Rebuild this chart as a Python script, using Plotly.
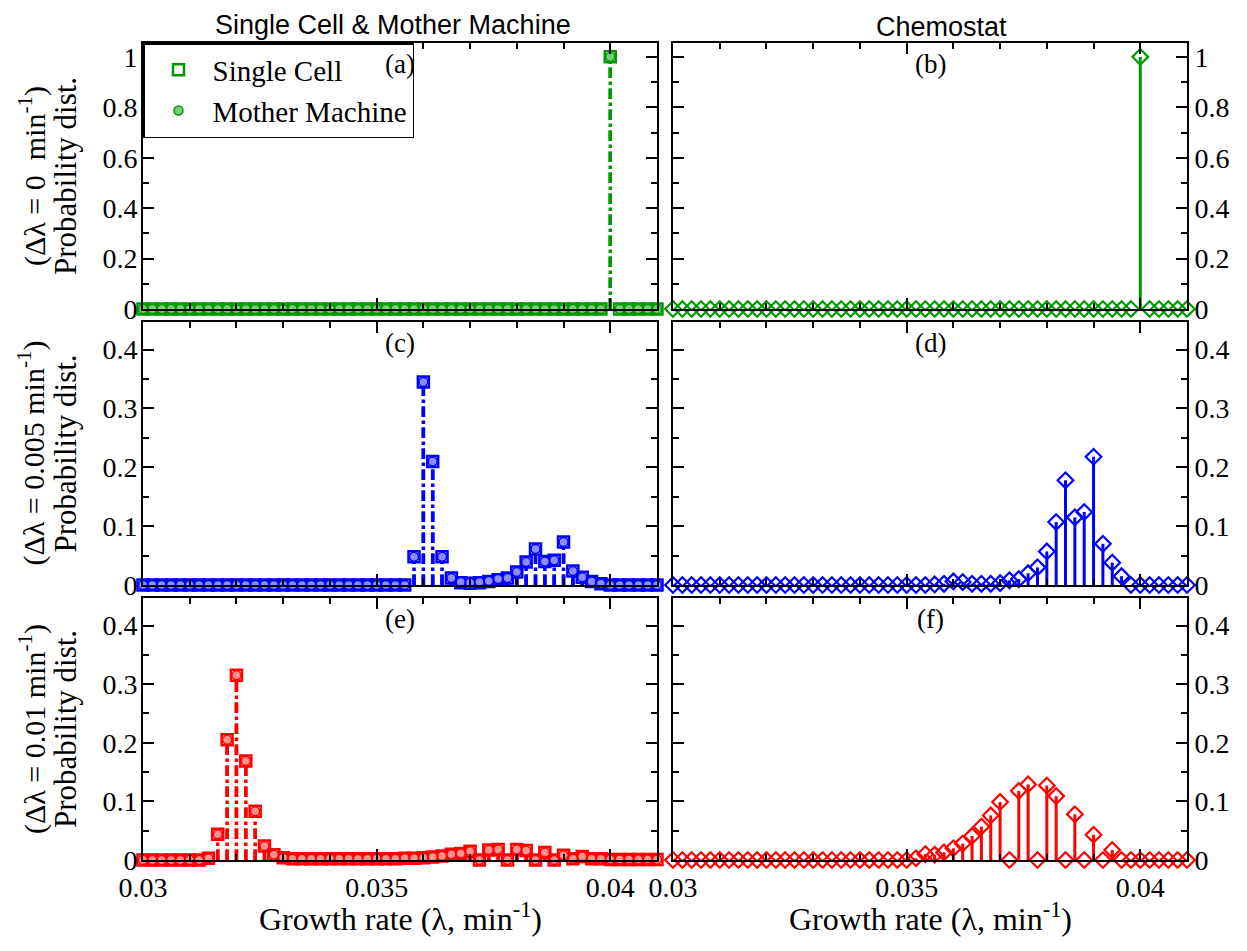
import plotly.graph_objects as go

# ---------------- data ----------------
growth_rate = [0.0300, 0.0302, 0.0304, 0.0306, 0.0308, 0.0310, 0.0312, 0.0314, 0.0316, 0.0318,
               0.0320, 0.0322, 0.0324, 0.0326, 0.0328, 0.0330, 0.0332, 0.0334, 0.0336, 0.0338,
               0.0340, 0.0342, 0.0344, 0.0346, 0.0348, 0.0350, 0.0352, 0.0354, 0.0356, 0.0358,
               0.0360, 0.0362, 0.0364, 0.0366, 0.0368, 0.0370, 0.0372, 0.0374, 0.0376, 0.0378,
               0.0380, 0.0382, 0.0384, 0.0386, 0.0388, 0.0390, 0.0392, 0.0394, 0.0396, 0.0398,
               0.0400, 0.0402, 0.0404, 0.0406, 0.0408, 0.0410]

# panel (a): delta lambda = 0, single cell / mother machine
sc_0 = [0]*50 + [1.0] + [0]*5
mm_0 = [0]*50 + [1.0] + [0]*5
# panel (b): delta lambda = 0, chemostat
ch_0 = [0]*50 + [1.0] + [0]*5

# panel (c): delta lambda = 0.005
sc_005 = [0]*29 + [0.048, 0.345, 0.210, 0.048, 0.012, 0.004, 0.003, 0.004, 0.006, 0.009,
                   0.012, 0.022, 0.039, 0.061, 0.040, 0.042, 0.073, 0.024, 0.013, 0.006,
                   0.002, 0, 0, 0, 0, 0, 0]
mm_005 = [0]*29 + [0.048, 0.345, 0.210, 0.048, 0.012, 0.005, 0.004, 0.005, 0.007, 0.010,
                   0.012, 0.022, 0.039, 0.061, 0.040, 0.042, 0.073, 0.024, 0.013, 0.006,
                   0.002, 0, 0, 0, 0, 0, 0]
# panel (d): chemostat
ch_005 = [0]*28 + [0.001, 0.002, 0.006, 0.005, 0.002, 0.002, 0.002, 0.003, 0.008, 0.010,
                   0.020, 0.030, 0.057, 0.107, 0.178, 0.115, 0.124, 0.218, 0.070, 0.038,
                   0.015, 0, 0, 0, 0, 0, 0, 0]

# panel (e): delta lambda = 0.01
sc_01 = [0, 0, 0, 0, 0, 0, 0, 0.003, 0.044, 0.205,
         0.315, 0.169, 0.083, 0.024, 0.009, 0.004, 0.002, 0.002, 0.002, 0.002,
         0.002, 0.002, 0.002, 0.002, 0.002, 0.002, 0.002, 0.002, 0.003, 0.003,
         0.004, 0.005, 0.007, 0.010, 0.011, 0.015, 0, 0.017, 0.018, 0,
         0.018, 0.016, 0, 0.013, 0, 0.008, 0.002, 0.006, 0.002, 0.002,
         0.001, 0.001, 0.001, 0.001, 0.001, 0.001]
mm_01 = [0, 0, 0, 0, 0, 0, 0, 0.003, 0.044, 0.205,
         0.315, 0.169, 0.083, 0.024, 0.009, 0.004, 0.002, 0.002, 0.002, 0.002,
         0.002, 0.002, 0.002, 0.002, 0.002, 0.002, 0.002, 0.002, 0.003, 0.003,
         0.004, 0.005, 0.007, 0.010, 0.011, 0.015, 0, 0.017, 0.018, 0,
         0.018, 0.016, 0, 0.013, 0, 0.008, 0.002, 0.006, 0.002, 0.002,
         0.001, 0.001, 0.001, 0.001, 0.001, 0.001]
# panel (f): chemostat
ch_01 = [0]*26 + [0.003, 0.010, 0.009, 0.013, 0.020, 0.028, 0.041, 0.057, 0.076, 0.099,
                  0, 0.118, 0.129, 0, 0.127, 0.109, 0, 0.078, 0, 0.043,
                  0, 0.017, 0, 0, 0, 0, 0, 0, 0, 0]

panel_labels = ["(a)", "(b)", "(c)", "(d)", "(e)", "(f)"]
delta_labels = ["(\u0394\u03bb = 0  min<sup>-1</sup>)", "(\u0394\u03bb = 0.005 min<sup>-1</sup>)",
                "(\u0394\u03bb = 0.01 min<sup>-1</sup>)"]
ylabel_text = "Probability dist."
xlabel_text = "Growth rate (\u03bb, min<sup>-1</sup>)"
column_titles = ["Single Cell & Mother Machine", "Chemostat"]
x_tick_vals = [0.03, 0.035, 0.04]
x_tick_text = ["0.03", "0.035", "0.04"]
y_ticks_top = [0, 0.2, 0.4, 0.6, 0.8, 1]
y_ticks_top_text = ["0", "0.2", "0.4", "0.6", "0.8", "1"]
y_ticks_low = [0, 0.1, 0.2, 0.3, 0.4]
y_ticks_low_text = ["0", "0.1", "0.2", "0.3", "0.4"]

GREEN, BLUE, RED = "#009a00", "#0000ff", "#ff0000"
LIGHT = {GREEN: "#7ccc7c", BLUE: "#8c8cff", RED: "#ff9090"}

SERIF = "Liberation Serif"
SANS = "Liberation Sans"
FS = 28

# page body has an 8 px margin: figure is drawn at (8, 8)
OFF = 8
W, H = 1247 - 2 * OFF, 951 - 2 * OFF
# panel pixel boxes (screen coordinates)
xl = (143, 657)
xr = (673, 1187)
rows = [(43, 309), (322, 585), (598, 860)]


def px(x):
    return (x - OFF) / W


def py(y):
    return 1 - (y - OFF) / H


def xd(p):
    return [px(p[0]), px(p[1])]


def yd(p):
    return [py(p[1]), py(p[0])]


def stems(x, y):
    sx, sy = [], []
    for xi, yi in zip(x, y):
        if yi > 0:
            sx += [xi, xi, None]
            sy += [0, yi, None]
    return sx, sy


fig = go.Figure()

left_sets = [(sc_0, mm_0, GREEN), (sc_005, mm_005, BLUE), (sc_01, mm_01, RED)]
right_sets = [(ch_0, GREEN), (ch_005, BLUE), (ch_01, RED)]

for r in range(3):
    sc, mm, col = left_sets[r]
    ax = 2 * r + 1
    xa = "x" if ax == 1 else f"x{ax}"
    ya = "y" if ax == 1 else f"y{ax}"
    sx, sy = stems(growth_rate, sc)
    fig.add_trace(go.Scatter(x=sx, y=sy, mode="lines", line=dict(color=col, width=3.5, dash="dash"),
                             xaxis=xa, yaxis=ya, showlegend=False, hoverinfo="skip"))
    sx, sy = stems(growth_rate, mm)
    fig.add_trace(go.Scatter(x=sx, y=sy, mode="lines", line=dict(color=col, width=3.5, dash="dashdot"),
                             xaxis=xa, yaxis=ya, showlegend=False, hoverinfo="skip"))
    fig.add_trace(go.Scatter(x=growth_rate, y=sc, mode="markers", name="Single Cell",
                             marker=dict(symbol="square-open", size=11, color=col, line=dict(width=2.5, color=col)),
                             xaxis=xa, yaxis=ya, showlegend=(r == 0), cliponaxis=False))
    fig.add_trace(go.Scatter(x=growth_rate, y=mm, mode="markers", name="Mother Machine",
                             marker=dict(symbol="circle", size=9, color=LIGHT[col], line=dict(width=1.5, color=col)),
                             xaxis=xa, yaxis=ya, showlegend=(r == 0), cliponaxis=False))

    ch, colr = right_sets[r]
    ax = 2 * r + 2
    xa, ya = f"x{ax}", f"y{ax}"
    sx, sy = stems(growth_rate, ch)
    fig.add_trace(go.Scatter(x=sx, y=sy, mode="lines", line=dict(color=colr, width=3),
                             xaxis=xa, yaxis=ya, showlegend=False, hoverinfo="skip"))
    fig.add_trace(go.Scatter(x=growth_rate, y=ch, mode="markers", name="Chemostat",
                             marker=dict(symbol="diamond-open", size=12, color=colr, line=dict(width=2.2, color=colr)),
                             xaxis=xa, yaxis=ya, showlegend=False, cliponaxis=False))

axis_common = dict(showline=True, linecolor="black", linewidth=2, mirror="ticks", ticks="inside",
                   ticklen=11, tickwidth=1.5, tickcolor="black", showgrid=False, zeroline=False,
                   automargin=False,
                   tickfont=dict(family=SERIF, size=FS, color="black"))

layout = dict(width=W, height=H, margin=dict(l=0, r=0, t=0, b=0, autoexpand=False),
              plot_bgcolor="white", paper_bgcolor="white", showlegend=True)

for r in range(3):
    for c in range(2):
        ax = 2 * r + c + 1
        kx = "xaxis" if ax == 1 else f"xaxis{ax}"
        ky = "yaxis" if ax == 1 else f"yaxis{ax}"
        xs = "x" if ax == 1 else f"x{ax}"
        ys = "y" if ax == 1 else f"y{ax}"
        layout[kx] = dict(axis_common, domain=xd(xl if c == 0 else xr), range=[0.03, 0.041],
                          anchor=ys, tickmode="array", tickvals=x_tick_vals, ticktext=x_tick_text,
                          showticklabels=(r == 2), ticklabelstandoff=1,
                          minor=dict(ticks="inside", ticklen=6, tickwidth=1.5, tickcolor="black",
                                     tick0=0.03, dtick=0.001))
        if r == 0:
            yv, yt, yr, md = y_ticks_top, y_ticks_top_text, [0, 1.055], 0.1
        else:
            yv, yt, yr, md = y_ticks_low, y_ticks_low_text, [0, 0.447], 0.05
        layout[ky] = dict(axis_common, domain=yd(rows[r]), range=yr, anchor=xs,
                          tickmode="array", tickvals=yv, ticktext=yt,
                          side=("left" if c == 0 else "right"),
                          ticklabelstandoff=(-2 if c == 0 else 0),
                          minor=dict(ticks="inside", ticklen=6, tickwidth=1.5, tickcolor="black",
                                     tick0=0, dtick=md))

layout["legend"] = dict(x=px(143), y=py(43), xanchor="left", yanchor="top",
                        bgcolor="white", bordercolor="black", borderwidth=1.5,
                        font=dict(family=SERIF, size=29, color="black"),
                        itemwidth=58, tracegroupgap=0)

fig.update_layout(**layout)

ann = []
centers_x = [(xl[0] + xl[1]) / 2, (xr[0] + xr[1]) / 2]
for r in range(3):
    for c in range(2):
        ann.append(dict(x=px(centers_x[c]), y=py(rows[r][0] + 4), xref="paper", yref="paper",
                        text=panel_labels[2 * r + c], showarrow=False, xanchor="center", yanchor="top",
                        font=dict(family=SERIF, size=27, color="black")))
    ymid = py((rows[r][0] + rows[r][1]) / 2)
    ann.append(dict(x=px(32), y=ymid, xref="paper", yref="paper",
                    text=delta_labels[r], showarrow=False, textangle=-90,
                    xanchor="center", yanchor="middle",
                    font=dict(family=SERIF, size=30, color="black")))
    ann.append(dict(x=px(65), y=ymid, xref="paper", yref="paper",
                    text=ylabel_text, showarrow=False, textangle=-90,
                    xanchor="center", yanchor="middle",
                    font=dict(family=SERIF, size=31, color="black")))
ann.append(dict(x=px(393), y=py(8), xref="paper", yref="paper", text=column_titles[0],
                showarrow=False, xanchor="center", yanchor="top",
                font=dict(family=SANS, size=27, color="black")))
ann.append(dict(x=px(941), y=py(10), xref="paper", yref="paper", text=column_titles[1],
                showarrow=False, xanchor="center", yanchor="top",
                font=dict(family=SANS, size=27, color="black")))
for c in range(2):
    ann.append(dict(x=px(centers_x[c]), y=py(917), xref="paper", yref="paper",
                    text=xlabel_text, showarrow=False,
                    xanchor="center", yanchor="middle",
                    font=dict(family=SERIF, size=32, color="black")))
fig.update_layout(annotations=ann)

fig.write_html("out.html")
